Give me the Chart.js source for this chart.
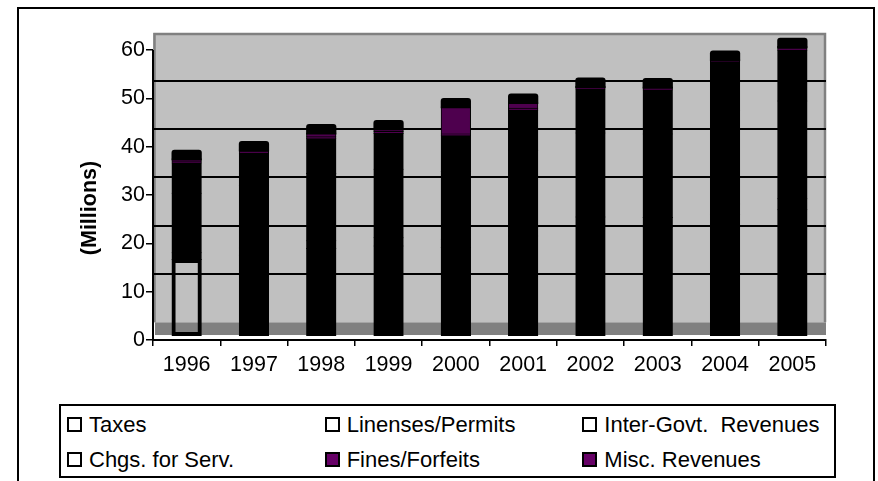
<!DOCTYPE html>
<html>
<head>
<meta charset="utf-8">
<script src="https://cdn.jsdelivr.net/npm/chart.js@4.4.1/dist/chart.umd.min.js"></script>
<style>
    body { margin: 0; background: #fff; }
    #wrap { position: relative; width: 878px; height: 481px; overflow: hidden; font-family: 'Liberation Sans', Arial, sans-serif; }
    #frame { position: absolute; left: 17px; top: 7px; width: 858px; height: 500px; border: 2px solid #000; box-sizing: border-box; }
    #chart { position: absolute; left: 0; top: 0; }
    #legend {
        position: absolute; left: 59px; top: 404px; width: 777px; height: 74px;
        border: 2px solid #000; box-sizing: border-box; background: #fff;
        display: grid; grid-template-columns: repeat(3, 1fr); grid-template-rows: 35px 35px; padding-top: 1px;
    }
    .item { display: flex; align-items: center; padding-left: 6px; font-size: 22px; color: #000; white-space: pre; }
    .sw { width: 15px; height: 15px; border: 2px solid #000; box-sizing: border-box; margin-right: 7px; flex: none; }
</style>
</head>
<body>
<div id="wrap">
    <div id="frame"></div>
    <canvas id="chart" width="878" height="481"></canvas>
    <div id="legend"></div>
</div>
<script>
const years = ['1996', '1997', '1998', '1999', '2000', '2001', '2002', '2003', '2004', '2005'];

const taxes     = [15.5, 16.4, 17.8, 18.3, 18.0, 20.4, 22.3, 22.2, 24.8, 25.8];
const licenses  = [1.4, 1.5, 1.6, 1.7, 1.7, 1.8, 2.0, 2.0, 2.2, 2.3];
const interGovt = [12.3, 12.9, 13.9, 14.2, 14.0, 15.9, 17.4, 17.3, 19.3, 20.2];
const chgsServ  = [6.3, 6.7, 7.2, 7.4, 7.4, 8.3, 9.1, 9.1, 10.1, 10.5];
const fines     = [0.4, 0.4, 0.4, 0.4, 0.4, 0.4, 0.4, 0.4, 0.4, 0.4];
const misc      = [0.45, 0.3, 0.8, 0.55, 5.6, 1.2, 0.1, 0.2, 0.1, 0.35];

const seriesNames = ['Taxes', 'Linenses/Permits', 'Inter-Govt.  Revenues', 'Chgs. for Serv.', 'Fines/Forfeits', 'Misc. Revenues'];
const seriesData = [taxes, licenses, interGovt, chgsServ, fines, misc];
const swatchColors = ['#fff', '#fff', '#fff', '#fff', '#660066', '#660066'];

// fake 3-D depth, in axis units
const WALL_SHIFT = 3.65;   // back wall gridlines sit this far above the front axis
const FLOOR_FRONT = 1.03;  // columns stand on the floor's front edge
const CAP_DEPTH = 1.95;    // visible top face of each column

const FONT = "'Liberation Sans', Arial, sans-serif";
Chart.defaults.font.family = FONT;
Chart.defaults.font.size = 21.5;
Chart.defaults.color = '#000';

const purple = '#4e004e';
const taxFill = years.map((y, i) => i === 0 ? 'rgba(0,0,0,0)' : '#000');
const taxBorder = years.map((y, i) => i === 0 ? 2 : 1);

const datasets = seriesData.map((d, i) => ({
    label: seriesNames[i],
    data: d,
    yAxisID: 'yb',
    backgroundColor: i === 0 ? taxFill : (i >= 4 ? purple : '#000'),
    borderColor: '#000',
    borderWidth: i === 0 ? taxBorder : 1,
    borderSkipped: i === 0 ? false : 'start',
    inflateAmount: 1,
    barPercentage: 0.42,
    categoryPercentage: 1
}));

const look3d = {
    id: 'look3d',
    beforeDraw(chart) {
        const { ctx, chartArea: a, scales } = chart;
        const wallBottom = scales.yg.getPixelForValue(0);
        const floorFront = scales.yb.getPixelForValue(0);
        ctx.save();
        ctx.fillStyle = '#c0c0c0';
        ctx.fillRect(a.left, a.top, a.right - a.left, wallBottom - a.top);
        ctx.fillStyle = '#808080';
        ctx.fillRect(a.left + 2, wallBottom, a.right - a.left - 2, floorFront - wallBottom);
        ctx.strokeStyle = '#808080';
        ctx.lineWidth = 2.5;
        ctx.beginPath();
        ctx.moveTo(a.left + 1.5, wallBottom);
        ctx.lineTo(a.left + 1.5, a.top + 1);
        ctx.lineTo(a.right - 1, a.top + 1);
        ctx.lineTo(a.right - 1, wallBottom);
        ctx.stroke();
        ctx.restore();
    },
    afterDatasetsDraw(chart) {
        const { ctx, scales } = chart;
        const capPx = scales.yb.getPixelForValue(0) - scales.yb.getPixelForValue(CAP_DEPTH);
        const tops = chart.getDatasetMeta(chart.data.datasets.length - 1).data;
        ctx.save();
        ctx.fillStyle = '#000';
        tops.forEach(bar => {
            const { x, y, width } = bar.getProps(['x', 'y', 'width'], true);
            ctx.beginPath();
            ctx.roundRect(x - width / 2 - 1, y - capPx, width + 2, capPx + 1, [3, 3, 0, 0]);
            ctx.fill();
        });
        ctx.restore();
    },
    afterDraw(chart) {
        const { ctx, chartArea: a, scales } = chart;
        ctx.save();
        ctx.strokeStyle = '#000';
        ctx.lineWidth = 2;
        ctx.beginPath();
        ctx.moveTo(a.left, scales.y.getPixelForValue(0) + 1);
        ctx.lineTo(a.left, scales.y.getPixelForValue(60));
        ctx.stroke();

        ctx.translate(90, 208);
        ctx.rotate(-Math.PI / 2);
        ctx.font = 'bold 21.5px ' + FONT;
        ctx.textAlign = 'center';
        ctx.textBaseline = 'middle';
        ctx.fillStyle = '#000';
        ctx.fillText('(Millions)', 0, 0);
        ctx.restore();
    }
};

new Chart(document.getElementById('chart'), {
    type: 'bar',
    data: { labels: years, datasets },
    plugins: [look3d],
    options: {
        responsive: false,
        animation: false,
        events: [],
        layout: { padding: { top: 33, right: 52, left: 0, bottom: 0 } },
        plugins: { legend: { display: false }, tooltip: { enabled: false } },
        scales: {
            x: {
                stacked: true,
                afterFit: s => { s.height = 141; },
                grid: { drawOnChartArea: false, tickLength: 6, color: '#000', lineWidth: 1.5 },
                border: { display: true, color: '#000', width: 2 },
                ticks: { padding: 6 }
            },
            y: {
                position: 'left',
                min: 0,
                max: 63.5,
                afterFit: s => { s.width = 153; },
                grid: { drawOnChartArea: false, tickLength: 7, color: '#000', lineWidth: 1.5 },
                border: { display: false },
                ticks: { stepSize: 10, includeBounds: false, padding: 1 }
            },
            yg: {
                position: 'right',
                min: -WALL_SHIFT,
                max: 63.5 - WALL_SHIFT,
                afterFit: s => { s.width = 0; },
                grid: {
                    drawTicks: false,
                    lineWidth: 2,
                    color: c => c.tick && c.tick.value === 0 ? 'rgba(0,0,0,0)' : '#000'
                },
                border: { display: false },
                ticks: { display: false, stepSize: 10, includeBounds: false }
            },
            yb: {
                display: false,
                stacked: true,
                min: -FLOOR_FRONT,
                max: 63.5 - FLOOR_FRONT
            }
        }
    }
});

const legend = document.getElementById('legend');
seriesNames.forEach((name, i) => {
    const item = document.createElement('div');
    item.className = 'item';
    const sw = document.createElement('span');
    sw.className = 'sw';
    sw.style.background = swatchColors[i];
    item.appendChild(sw);
    item.appendChild(document.createTextNode(name));
    legend.appendChild(item);
});
</script>
</body>
</html>
